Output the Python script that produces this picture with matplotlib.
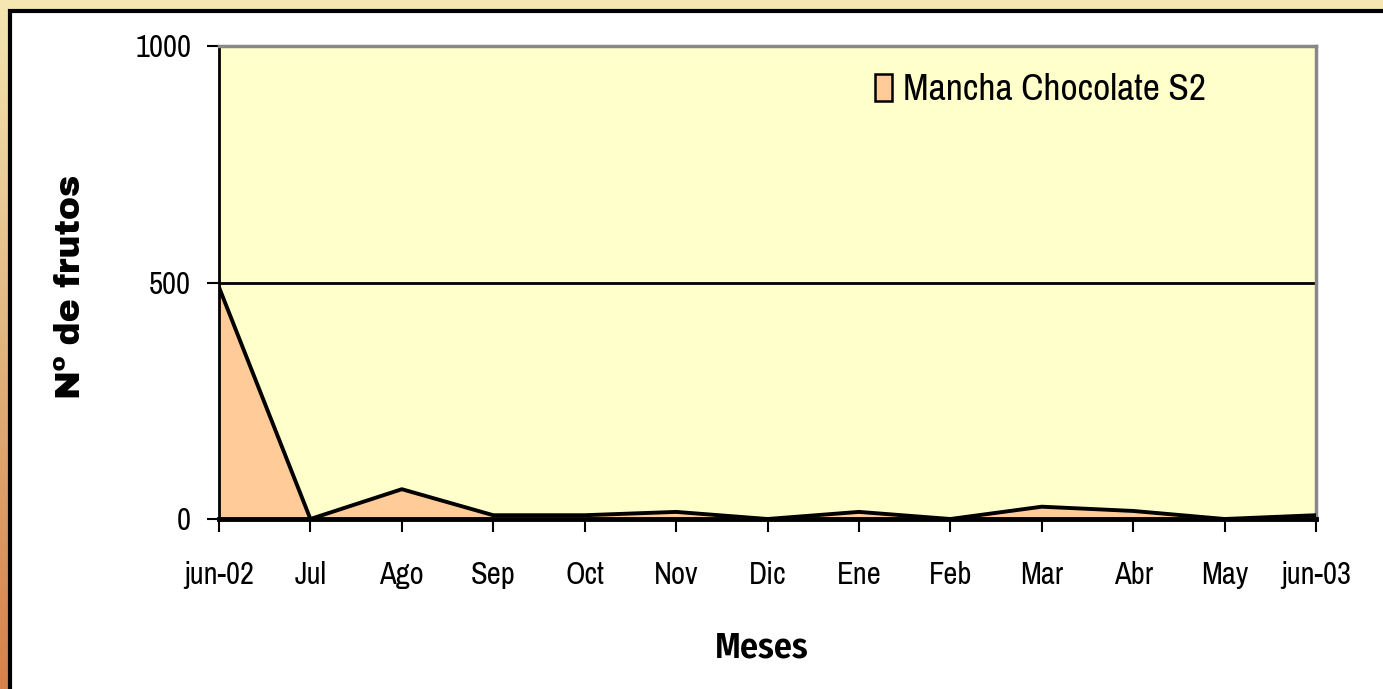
import numpy as np
import matplotlib.pyplot as plt
from matplotlib.patches import Rectangle
from matplotlib.colors import LinearSegmentedColormap

# data
meses = ['jun-02', 'Jul', 'Ago', 'Sep', 'Oct', 'Nov', 'Dic', 'Ene', 'Feb',
         'Mar', 'Abr', 'May', 'jun-03']
frutos = [490, 0, 63, 8, 8, 15, 0, 15, 0, 26, 17, 0, 8]
serie = 'Mancha Chocolate S2'

W, H = 1383, 689
fig = plt.figure(figsize=(W / 100, H / 100), dpi=100)

# background frame: yellow on top, gradient down the left side
bg = fig.add_axes([0, 0, 1, 1])
bg.set_xlim(0, W)
bg.set_ylim(H, 0)
bg.axis('off')
cmap = LinearSegmentedColormap.from_list('frame', ['#f5e6b2', '#e2b57f', '#d6804a'])
grad = np.linspace(0, 1, 256).reshape(-1, 1)
bg.imshow(grad, cmap=cmap, extent=[0, W, H, 0], aspect='auto', zorder=0)
bg.add_patch(Rectangle((0, 0), W, 9, color='#f5e6b2', zorder=1))
bg.add_patch(Rectangle((10, 11), W + 20, H + 20, facecolor='white',
                       edgecolor='black', linewidth=3, zorder=2))

# plot area
x0, x1, y0, y1 = 219, 1316, 46, 519
ax = fig.add_axes([x0 / W, 1 - y1 / H, (x1 - x0) / W, (y1 - y0) / H])
ax.set_facecolor('#ffffcc')
x = np.arange(len(meses))
ax.fill_between(x, frutos, 0, facecolor='#ffcc99', edgecolor='none', zorder=2)
ax.plot(x, frutos, color='black', lw=2.8, zorder=3)
ax.axhline(500, color='black', lw=2, zorder=1)
ax.set_xlim(0, len(meses) - 1)
ax.set_ylim(0, 1000)

narrow = ['Liberation Sans Narrow', 'Archivo Narrow', 'Roboto Condensed',
          'PT Sans Narrow', 'Fira Sans Condensed', 'DejaVu Sans']
ax.set_xticks(x)
ax.set_xticklabels(meses, fontsize=22, family=narrow)
ax.set_yticks([0, 500, 1000])
ax.set_yticklabels(['0', '500', '1000'], fontsize=22, family=narrow)
ax.tick_params(axis='x', length=9, width=1.5, direction='out', pad=21)
ax.tick_params(axis='y', length=9, width=1.5, direction='out', pad=11)

ax.spines['left'].set_linewidth(2)
ax.spines['bottom'].set_linewidth(3.5)
for s in ['top', 'right']:
    ax.spines[s].set_color('#888888')
    ax.spines[s].set_linewidth(2.5)

fig.text(70 / W, 1 - 287 / H, 'Nº de frutos', rotation=90, ha='center',
         va='center', fontsize=25, fontweight='bold',
         family=['Archivo Black', 'DejaVu Sans'])
fig.text(762 / W, 1 - 648 / H, 'Meses', ha='center', va='center',
         fontsize=26, fontweight=600,
         family=['Fira Sans Condensed', 'Roboto Condensed', 'DejaVu Sans'])

ax.legend([Rectangle((0, 0), 1, 1, facecolor='#ffcc99', edgecolor='black', lw=1.8)],
          [serie], loc='center left', bbox_to_anchor=(0.598, 0.907),
          frameon=False, handlelength=0.45, handleheight=0.72,
          handletextpad=0.3, borderpad=0, borderaxespad=0,
          prop={'family': narrow, 'size': 27})

fig.savefig('out.png', dpi=100)
